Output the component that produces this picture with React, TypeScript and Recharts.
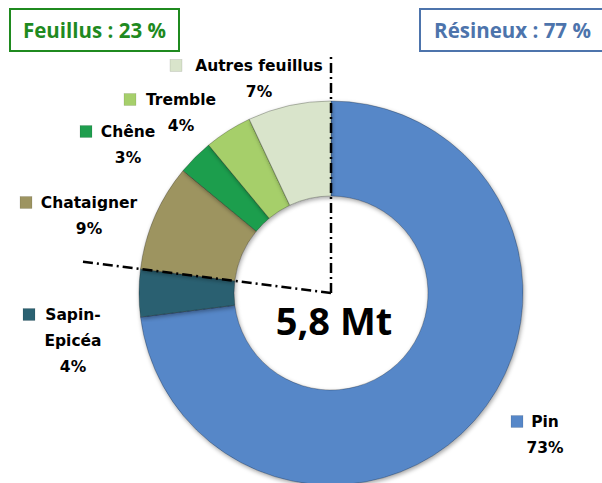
import { PieChart, Pie, Cell } from 'recharts'

const species = ['Pin', 'Sapin-Epicéa', 'Chataigner', 'Chêne', 'Tremble', 'Autres feuillus']
const shares = [73, 4, 9, 3, 4, 7]
const colors = ['#5687c8', '#2b6171', '#9d9461', '#1f9e4e', '#a6cf6b', '#d9e4cb']
const groups = ['Feuillus', 'Résineux']
const groupShares = [23, 77]
const total = '5,8 Mt'

// where each legend-style label sits (marker x, text centre x, first line y)
const labelPos = [
  { mx: 517, tx: 545, ty: 422 },
  { mx: 29, tx: 73, ty: 315 },
  { mx: 26, tx: 89, ty: 203 },
  { mx: 86, tx: 128, ty: 132 },
  { mx: 130, tx: 181, ty: 100 },
  { mx: 176, tx: 259, ty: 66 },
]

const data = species.map((name, i) => ({ name, value: shares[i] }))

const RADIAN = Math.PI / 180
const LINE_H = 26
const FONT = '"DejaVu Sans", sans-serif'

const renderLabel = (props: any) => {
  const { cx, cy, startAngle, endAngle, index, name, value } = props
  const pos = labelPos[index]
  const lines: string[] = name.split(/(?<=-)/)
  const dash = '10 4 2 4'
  let divider = null
  // group boundaries: top of the ring and the end of the résineux slices
  if (index === 0) {
    const a = -startAngle * RADIAN
    divider = (
      <line x1={cx} y1={cy} x2={cx + Math.cos(a) * 237} y2={cy + Math.sin(a) * 237}
        stroke="#000" strokeWidth={2.5} strokeDasharray={dash} />
    )
  }
  if (index === 1) {
    const a = -endAngle * RADIAN
    divider = (
      <line x1={cx} y1={cy} x2={cx + Math.cos(a) * 254} y2={cy + Math.sin(a) * 254}
        stroke="#000" strokeWidth={2.5} strokeDasharray={dash} />
    )
  }
  return (
    <g key={`lbl-${index}`}>
      {divider}
      <rect x={pos.mx - 6} y={pos.ty - 6.5} width={12} height={12} fill={colors[index]}
        stroke="rgba(0,0,0,0.2)" strokeWidth={0.5} />
      {lines.map((l, j) => (
        <text key={j} x={pos.tx} y={pos.ty + j * LINE_H} textAnchor="middle" dominantBaseline="central"
          fontFamily={FONT} fontWeight="bold" fontSize={15.5} fill="#000">
          {l}
        </text>
      ))}
      <text x={pos.tx} y={pos.ty + lines.length * LINE_H} textAnchor="middle" dominantBaseline="central"
        fontFamily={FONT} fontWeight="bold" fontSize={15.5} fill="#000">
        {value}%
      </text>
    </g>
  )
}

const boxStyle = (color: string, left: number, width: number) => ({
  position: 'absolute' as const,
  left,
  top: 8,
  width,
  height: 40,
  border: `2px solid ${color}`,
  color,
  fontFamily: '"Open Sans", sans-serif',
  fontWeight: 700,
  fontSize: 20.5,
  display: 'flex',
  alignItems: 'center',
  justifyContent: 'center',
  boxSizing: 'content-box' as const,
  background: '#fff',
})

export default function App() {
  return (
    <div style={{ position: 'absolute', left: 0, top: 0, width: 602, height: 483, overflow: 'hidden', background: '#fff' }}>
      <PieChart width={602} height={483} margin={{ top: 0, right: 0, bottom: 0, left: 0 }}>
        <defs>
          <filter id="bevel" x="-10%" y="-10%" width="120%" height="120%">
            <feDropShadow dx="1" dy="2" stdDeviation="2" floodColor="#000" floodOpacity="0.35" />
          </filter>
        </defs>
        <Pie
          data={data}
          dataKey="value"
          nameKey="name"
          cx={331}
          cy={293}
          innerRadius={97}
          outerRadius={192}
          startAngle={90}
          endAngle={-270}
          stroke="rgba(0,0,0,0.25)"
          strokeWidth={1}
          label={renderLabel}
          labelLine={false}
          isAnimationActive={false}
          style={{ filter: 'url(#bevel)' }}
        >
          {data.map((d, i) => (
            <Cell key={d.name} fill={colors[i]} />
          ))}
        </Pie>
        <text x={334} y={320} textAnchor="middle" dominantBaseline="central"
          fontFamily='"Open Sans", sans-serif' fontWeight="bold" fontSize={38} fill="#000">
          {total}
        </text>
      </PieChart>
      <div style={boxStyle('#1f8a1f', 9, 167)}>{groups[0]} : {groupShares[0]} %</div>
      <div style={boxStyle('#4d74ac', 419, 183)}>{groups[1]} : {groupShares[1]} %</div>
    </div>
  )
}
